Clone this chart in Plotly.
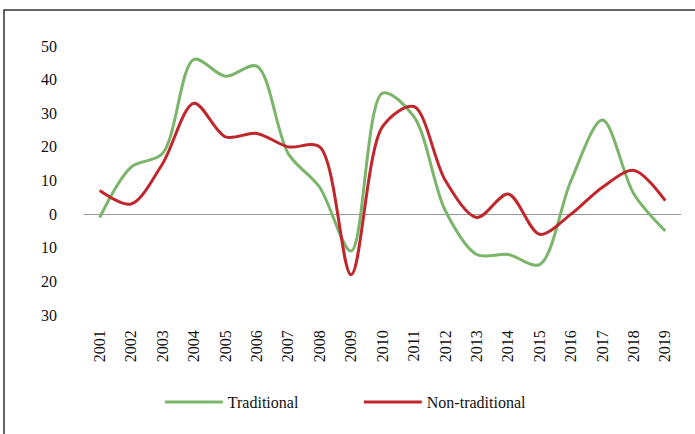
import plotly.graph_objects as go

years = list(range(2001, 2020))
traditional = [-1, 14, 18, 46, 41, 44, 18, 8, -11, 36, 29, 1, -12, -12, -15, 10, 28, 6, -5]
non_traditional = [7, 3, 15, 33, 23, 24, 20, 20, -18, 26, 32, 10, -1, 6, -6, 0, 8, 13, 4]
y_tickvals = [50, 40, 30, 20, 10, 0, -10, -20, -30]
y_ticktext = ["50", "40", "30", "20", "10", "0", "10", "20", "30"]

fig = go.Figure()
fig.add_trace(go.Scatter(x=years, y=traditional, mode="lines", name="Traditional",
                         line=dict(color="#7ab56a", width=3, shape="spline", smoothing=0.9)))
fig.add_trace(go.Scatter(x=years, y=non_traditional, mode="lines", name="Non-traditional",
                         line=dict(color="#c0272d", width=3, shape="spline", smoothing=0.9)))

fig.update_layout(
    width=695, height=434,
    margin=dict(l=84, r=14, t=46, b=119, autoexpand=False),
    paper_bgcolor="white", plot_bgcolor="white",
    font=dict(family="Liberation Serif", size=16, color="#111111"),
    showlegend=True,
    legend=dict(orientation="h", x=0.127, xanchor="left", y=-0.261, yanchor="top",
                entrywidth=126, itemwidth=58, font=dict(size=16)),
    xaxis=dict(range=[2000.5, 2019.5], tickmode="array", tickvals=years,
               ticktext=[str(y) for y in years], tickangle=-90, showgrid=False,
               zeroline=False, showline=False, ticks="", ticklabelstandoff=11),
    yaxis=dict(range=[-30, 50], tickmode="array", tickvals=y_tickvals, ticktext=y_ticktext,
               showgrid=False, zeroline=True, zerolinecolor="#999999", zerolinewidth=1,
               showline=False, ticks="", ticklabelstandoff=26),
)

fig.add_shape(type="rect", xref="paper", yref="paper", x0=-0.134, x1=1.05, y0=-0.5, y1=1.134,
              line=dict(color="#333333", width=1.5), fillcolor="rgba(0,0,0,0)", layer="below")

fig.write_html("out.html", config={"displayModeBar": False},
               post_script="document.body.style.margin='0';document.body.style.overflow='hidden';")
